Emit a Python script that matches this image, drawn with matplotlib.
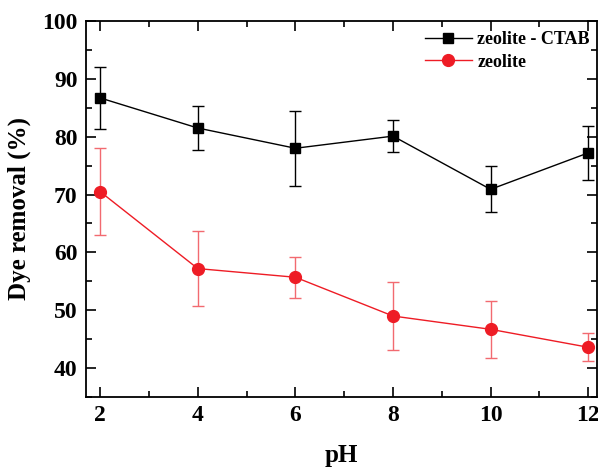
import matplotlib
matplotlib.use('Agg')
import matplotlib.pyplot as plt
from matplotlib.ticker import MultipleLocator
from matplotlib.lines import Line2D

ph = [2, 4, 6, 8, 10, 12]

ctab = [86.7, 81.5, 78.0, 80.1, 70.9, 77.2]
ctab_err = [5.4, 3.8, 6.5, 2.8, 4.0, 4.7]

zeo = [70.5, 57.2, 55.7, 49.0, 46.7, 43.6]
zeo_err = [7.5, 6.5, 3.5, 5.8, 4.9, 2.4]

plt.rcParams['font.family'] = 'Liberation Serif'
plt.rcParams['font.weight'] = 'bold'

fig = plt.figure(figsize=(5.98, 4.69), dpi=100)
ax = fig.add_axes([86/598, 72/469, 511/598, 376/469])

ax.errorbar(ph, ctab, yerr=ctab_err, color='black', marker='s', markersize=7.5,
            linewidth=1, elinewidth=1, capsize=4, capthick=1)
ax.errorbar(ph, zeo, yerr=zeo_err, color='#ee1c25', marker='o', markersize=8.5,
            linewidth=1, elinewidth=1, capsize=4, capthick=1, ecolor='#f26a70')

ax.set_xlim(1.71, 12.18)
ax.set_ylim(35, 100)
ax.xaxis.set_major_locator(MultipleLocator(2))
ax.xaxis.set_minor_locator(MultipleLocator(1))
ax.yaxis.set_major_locator(MultipleLocator(10))
ax.yaxis.set_minor_locator(MultipleLocator(5))
ax.tick_params(which='both', direction='in', top=True, right=True, width=1.2)
ax.tick_params(which='major', length=7, labelsize=17, pad=6)
ax.tick_params(which='minor', length=4)
for s in ax.spines.values():
    s.set_linewidth(1.3)

ax.set_xlabel('pH', fontsize=18, fontweight='bold', labelpad=13)
ax.set_ylabel('Dye removal (%)', fontsize=18, fontweight='bold', labelpad=8)

handles = [Line2D([], [], color='black', marker='s', markersize=7.5, linewidth=1),
           Line2D([], [], color='#ee1c25', marker='o', markersize=8.5, linewidth=1)]
ax.legend(handles, ['zeolite - CTAB', 'zeolite'], loc='upper right', frameon=False,
          bbox_to_anchor=(1.0, 0.992), fontsize=13, handlelength=2.6,
          borderaxespad=0, handletextpad=0.3, labelspacing=0.3)

fig.savefig('out.png', dpi=100)
